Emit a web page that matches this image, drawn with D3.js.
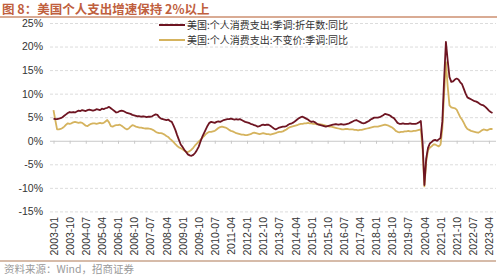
<!DOCTYPE html>
<html>
<head>
<meta charset="utf-8">
<script src="https://cdn.jsdelivr.net/npm/d3@7"></script>
<style>
  html, body { margin: 0; padding: 0; background: #fff; }
  svg { display: block; }
  text { font-family: Arial, "Liberation Sans", sans-serif; }
  .cn { font-family: "Noto Sans CJK SC", sans-serif; }
</style>
</head>
<body>
<svg id="chart" width="500" height="277"></svg>
<script>
// monthly categories 2003-01 .. 2023-06
let months = d3.timeMonth.range(new Date(2003, 0, 1), new Date(2023, 6, 1)).map(d3.timeFormat("%Y-%m"));

// x tick labels (every 9 months)
let xLabels = ["2003-01","2003-10","2004-07","2005-04","2006-01","2006-10","2007-07","2008-04",
  "2009-01","2009-10","2010-07","2011-04","2012-01","2012-10","2013-07","2014-04","2015-01",
  "2015-10","2016-07","2017-04","2018-01","2018-10","2019-07","2020-04","2021-01","2021-10",
  "2022-07","2023-04"];
let yTicks = [-15, -10, -5, 0, 5, 10, 15, 20, 25];

let seriesNames = ["美国:个人消费支出:季调:折年数:同比", "美国:个人消费支出:不变价:季调:同比"];

// nominal PCE yoy, %
let nominal = [
  4.7, 4.6, 4.6, 4.7, 4.8, 5.0, 5.3, 5.6, 5.9, 6.1, 6.0, 6.1,
  6.0, 6.2, 6.4, 6.3, 6.5, 6.4, 6.3, 6.5, 6.6, 6.5, 6.4, 6.5,
  6.7, 6.6, 6.5, 6.8, 6.7, 6.9, 7.0, 7.2, 6.9, 6.6, 6.3, 6.0,
  6.1, 6.3, 6.4, 6.3, 6.1, 5.9, 5.8, 5.7, 5.5, 5.4, 5.3, 5.2,
  5.2, 5.1, 5.2, 5.1, 5.0, 5.1, 5.1, 5.2, 5.4, 5.6, 5.5, 5.0,
  4.7, 4.6, 4.5, 4.4, 4.5, 4.2, 4.0, 3.2, 2.3, 1.2, 0.2, -0.8,
  -1.3, -1.9, -2.4, -2.9, -3.1, -3.2, -3.0, -2.6, -2.0, -1.3, -0.2, 0.8,
  1.6, 2.4, 3.2, 3.8, 4.0, 3.9, 3.8, 4.0, 4.1, 4.0, 4.2, 4.4,
  4.5, 4.6, 4.6, 4.7, 4.6, 4.5, 4.6, 4.5, 4.6, 4.4, 4.2, 4.0,
  3.9, 3.8, 3.6, 3.5, 3.3, 3.2, 3.0, 3.1, 3.3, 3.4, 3.3, 3.4,
  3.4, 3.2, 2.9, 2.6, 2.4, 2.6, 2.8, 2.9, 3.0, 3.0, 3.1, 3.4,
  3.6, 3.7, 3.9, 4.2, 4.5, 4.8, 5.0, 5.1, 4.9, 4.7, 4.5, 4.2,
  4.0, 4.1, 3.9, 3.6, 3.4, 3.3, 3.2, 3.1, 3.0, 3.1, 3.2, 3.3,
  3.4, 3.5, 3.5, 3.4, 3.5, 3.5, 3.4, 3.5, 3.6, 3.7, 3.9, 4.1,
  4.3, 4.4, 4.2, 4.0, 3.8, 3.7, 3.8, 4.0, 4.2, 4.5, 4.7, 4.9,
  4.9, 4.9, 5.0, 5.2, 5.4, 5.7, 5.6, 5.5, 5.3, 5.0, 4.8, 4.3,
  3.8, 3.6, 3.6, 3.7, 3.6, 3.6, 3.6, 3.7, 3.6, 3.6, 3.6, 3.7,
  3.9, 4.2, -0.5, -9.4, -3.8, -1.5, -0.6, -0.3, 0.1, 0.2, 0.0, 0.3,
  0.6, 4.0, 13.0, 21.0, 17.0, 13.5, 12.5, 12.6, 13.0, 13.2, 13.0, 12.4,
  12.0, 11.0, 10.0, 9.2, 9.0, 8.8, 8.6, 8.4, 8.3, 8.1, 7.8, 7.6,
  7.5, 7.2, 6.8, 6.4, 6.1, 5.9
];

// real PCE yoy, %
let real = [
  6.5, 4.4, 2.4, 2.4, 2.5, 2.7, 3.0, 3.4, 3.7, 3.6, 3.7, 3.9,
  4.0, 3.9, 3.8, 3.9, 3.8, 3.5, 3.2, 3.1, 3.4, 3.6, 3.7, 3.7,
  3.6, 3.7, 3.8, 3.7, 3.8, 4.1, 4.4, 3.9, 3.1, 3.0, 3.2, 3.3,
  3.3, 3.4, 3.2, 2.9, 2.6, 2.4, 2.6, 3.0, 3.3, 3.2, 3.0, 2.9,
  2.8, 2.8, 2.7, 2.6, 2.6, 2.6, 2.5, 2.4, 2.2, 1.9, 1.7, 1.6,
  1.6, 1.5, 1.3, 1.0, 0.8, 0.4, 0.1, -0.3, -0.7, -1.1, -1.4, -1.6,
  -1.8, -2.1, -2.3, -2.4, -2.2, -1.9, -1.5, -1.0, -0.6, -0.2, 0.2, 0.6,
  1.0, 1.4, 1.7, 1.9, 1.9, 2.0, 2.1, 2.4, 2.7, 2.9, 3.0, 2.9,
  2.8, 2.6, 2.3, 2.1, 2.0, 1.8, 1.6, 1.5, 1.4, 1.3, 1.3, 1.2,
  1.2, 1.3, 1.4, 1.6, 1.7, 1.6, 1.5, 1.4, 1.5, 1.6, 1.5, 1.4,
  1.4, 1.3, 1.4, 1.5, 1.6, 1.8, 1.9, 1.9, 2.0, 2.2, 2.4, 2.7,
  2.9, 3.0, 3.1, 3.2, 3.3, 3.5, 3.6, 3.6, 3.7, 3.7, 3.8, 3.7,
  3.7, 3.6, 3.6, 3.5, 3.5, 3.5, 3.4, 3.3, 3.2, 3.1, 3.0, 3.0,
  2.9, 2.8, 2.7, 2.6, 2.5, 2.4, 2.4, 2.5, 2.5, 2.4, 2.4, 2.4,
  2.3, 2.3, 2.2, 2.3, 2.3, 2.4, 2.5, 2.6, 2.7, 2.8, 2.9, 3.0,
  3.0, 3.0, 3.1, 3.2, 3.3, 3.4, 3.3, 3.2, 3.0, 2.8, 2.5, 2.1,
  1.9, 1.8, 1.9, 1.9, 2.0, 2.0, 2.1, 2.0, 2.0, 2.1, 2.1, 2.2,
  2.3, 2.4, -2.0, -9.7, -4.5, -2.0, -1.5, -1.2, -0.8, -0.8, -1.0, -1.2,
  -0.8, 2.5, 10.0, 16.7, 11.5, 7.5, 7.1, 7.0, 6.9, 6.6, 5.8, 5.0,
  4.5, 3.8, 3.0, 2.5, 2.3, 2.1, 2.0, 1.9, 1.8, 1.7, 1.9, 2.2,
  2.4, 2.3, 2.2, 2.4, 2.5, 2.5
];

let svg = d3.select("#chart");

// scales
let x = d3.scalePoint().domain(months).range([53.5, 492.5]);
let y = d3.scaleLinear().domain([-15, 25]).range([211.4, 23]);

// title and rule under it
svg.append("text")
  .attr("class", "cn")
  .attr("x", 2)
  .attr("y", 13.5)
  .attr("fill", "#c0603e")
  .attr("font-size", 12.5)
  .attr("font-weight", "bold")
  .text("图 8：美国个人支出增速保持 2%以上");
svg.append("line")
  .attr("x1", 0).attr("x2", 497)
  .attr("y1", 17).attr("y2", 17)
  .attr("stroke", "#cd8f70")
  .attr("stroke-width", 1.5);

// y axis with dashed grid
let yAxis = svg.append("g")
  .attr("transform", "translate(50,0)")
  .call(d3.axisLeft(y).tickValues(yTicks).tickSize(-446).tickFormat(d => d + "%"));
yAxis.select(".domain").remove();
yAxis.selectAll(".tick line")
  .attr("stroke", "#dcdcdc")
  .attr("stroke-dasharray", "3,2")
  .filter(d => d === 0)
  .attr("stroke", "#c8c8c8")
  .attr("stroke-dasharray", null);
yAxis.selectAll(".tick text")
  .attr("x", -7)
  .attr("fill", "#333")
  .attr("font-size", 10.5);

// x ticks on zero line
let xTicks = svg.append("g")
  .attr("transform", "translate(0," + y(0) + ")")
  .call(d3.axisBottom(x).tickValues(xLabels).tickSize(3).tickFormat(""));
xTicks.select(".domain").remove();
xTicks.selectAll(".tick line").attr("stroke", "#c8c8c8");

// x labels at the bottom, rotated
let xAxis = svg.append("g")
  .attr("transform", "translate(0,217)")
  .call(d3.axisBottom(x).tickValues(xLabels).tickSize(0));
xAxis.select(".domain").remove();
xAxis.selectAll(".tick text")
  .attr("transform", "rotate(-90)")
  .attr("text-anchor", "end")
  .attr("x", 0)
  .attr("y", 0)
  .attr("dy", "0.35em")
  .attr("fill", "#333")
  .attr("font-size", 10.5);

// lines
let colors = ["#6e1522", "#d5b35e"];
let line = d3.line().x((d, i) => x(months[i])).y(d => y(d));
[real, nominal].forEach(function (s, k) {
  svg.append("path")
    .datum(s)
    .attr("fill", "none")
    .attr("stroke", k === 0 ? colors[1] : colors[0])
    .attr("stroke-width", 1.8)
    .attr("stroke-linejoin", "round")
    .attr("d", line);
});

// legend
seriesNames.forEach(function (name, i) {
  let ly = 25 + i * 15;
  svg.append("line")
    .attr("x1", 159).attr("x2", 185)
    .attr("y1", ly).attr("y2", ly)
    .attr("stroke", colors[i])
    .attr("stroke-width", 2);
  svg.append("text")
    .attr("class", "cn")
    .attr("x", 187)
    .attr("y", ly + 3.5)
    .attr("fill", "#333")
    .attr("font-size", 10)
    .text(name);
});

// bottom rule and source
svg.append("line")
  .attr("x1", 0).attr("x2", 496)
  .attr("y1", 261).attr("y2", 261)
  .attr("stroke", "#c9a58c")
  .attr("stroke-width", 1.5);
svg.append("text")
  .attr("class", "cn")
  .attr("x", 4)
  .attr("y", 273)
  .attr("fill", "#9a9a9a")
  .attr("font-size", 10.5)
  .text("资料来源：Wind，招商证券");
</script>
</body>
</html>
